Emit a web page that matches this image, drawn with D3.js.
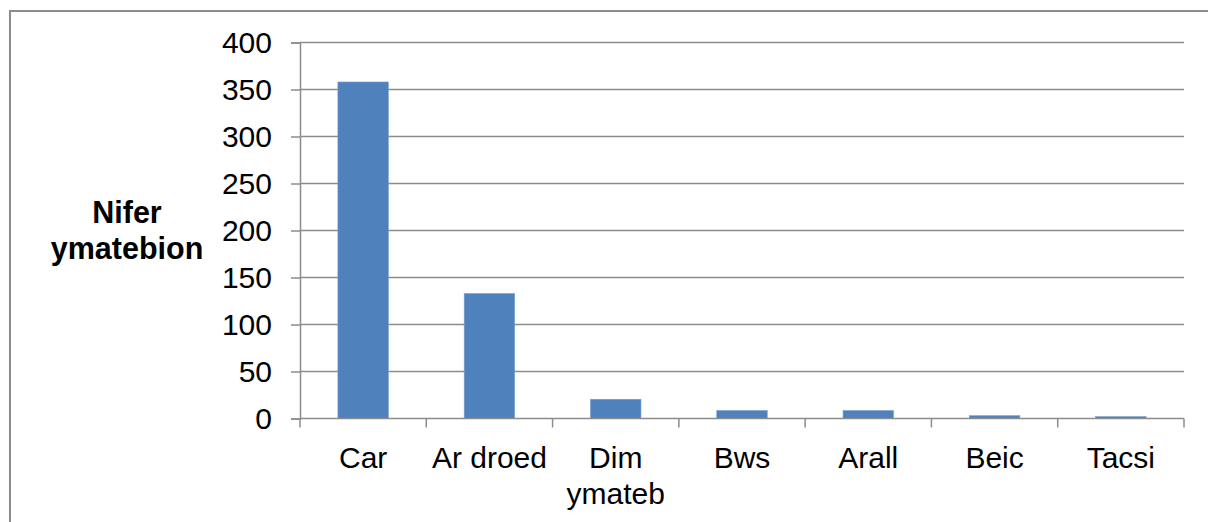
<!DOCTYPE html>
<html>
<head>
<meta charset="utf-8">
<script src="https://cdn.jsdelivr.net/npm/d3@7"></script>
<style>
  html, body { margin: 0; padding: 0; background: #fff; }
  svg { display: block; font-family: "Liberation Sans", Arial, sans-serif; }
</style>
</head>
<body>
<svg id="chart" width="1208" height="522"></svg>
<script>
const categories = ["Car", "Ar droed", "Dim ymateb", "Bws", "Arall", "Beic", "Tacsi"];
const values = [358, 133, 20.5, 8.5, 8.5, 3, 2];
const yTicks = [0, 50, 100, 150, 200, 250, 300, 350, 400];
const yTitle = ["Nifer", "ymatebion"];

const svg = d3.select("#chart");

const plot = { left: 300, right: 1184, top: 42.5, bottom: 418.5 };
const fontSize = 30;

// outer frame (right and bottom edges fall outside the picture)
svg.append("rect")
    .attr("x", 10)
    .attr("y", 11)
    .attr("width", 1210)
    .attr("height", 530)
    .attr("fill", "none")
    .attr("stroke", "#8c8c8c")
    .attr("stroke-width", 2);

const x = d3.scaleBand()
    .domain(categories)
    .range([plot.left, plot.right])
    .padding(0);

const y = d3.scaleLinear()
    .domain([0, 400])
    .range([plot.bottom, plot.top]);

// gridlines
svg.append("g")
    .selectAll("line")
    .data(yTicks.filter(d => d > 0))
    .join("line")
    .attr("x1", plot.left)
    .attr("x2", plot.right)
    .attr("y1", d => y(d))
    .attr("y2", d => y(d))
    .attr("stroke", "#8c8c8c")
    .attr("stroke-width", 1.5);

// y axis
const yAxis = svg.append("g")
    .attr("transform", `translate(${plot.left},0)`)
    .call(d3.axisLeft(y).tickValues(yTicks).tickSize(9).tickPadding(19));
yAxis.select(".domain").attr("stroke", "#8c8c8c").attr("stroke-width", 1.5);
yAxis.selectAll(".tick line").attr("stroke", "#8c8c8c").attr("stroke-width", 1.5);
yAxis.selectAll(".tick text")
    .attr("font-size", fontSize)
    .attr("fill", "#000")
    .attr("font-family", "Liberation Sans, Arial, sans-serif");

// bars
const barW = x.bandwidth() * 0.4;
svg.append("g")
    .selectAll("rect")
    .data(categories.map((c, i) => ({ c, v: values[i] })))
    .join("rect")
    .attr("x", d => x(d.c) + (x.bandwidth() - barW) / 2)
    .attr("y", d => y(d.v))
    .attr("width", barW)
    .attr("height", d => y(0) - y(d.v))
    .attr("fill", "#4f81bd")
    .attr("stroke", "#7aa0d0")
    .attr("stroke-width", 0.6);

// x axis line + ticks at band edges
const xg = svg.append("g");
xg.append("line")
    .attr("x1", plot.left)
    .attr("x2", plot.right)
    .attr("y1", y(0))
    .attr("y2", y(0))
    .attr("stroke", "#8c8c8c")
    .attr("stroke-width", 1.5);
const edges = categories.map(c => x(c)).concat([plot.right]);
xg.selectAll("line.tk")
    .data(edges)
    .join("line")
    .attr("class", "tk")
    .attr("x1", d => d)
    .attr("x2", d => d)
    .attr("y1", y(0))
    .attr("y2", y(0) + 9)
    .attr("stroke", "#8c8c8c")
    .attr("stroke-width", 1.5);

// category labels (wrap onto two lines if too wide)
categories.forEach(c => {
    const cx = x(c) + x.bandwidth() / 2;
    const t = svg.append("text")
        .attr("x", cx)
        .attr("y", 468)
        .attr("text-anchor", "middle")
        .attr("font-size", fontSize)
        .attr("fill", "#000");
    const words = c.split(" ");
    t.text(c);
    if (t.node().getComputedTextLength() > x.bandwidth() && words.length > 1) {
        t.text(null);
        words.forEach((w, i) => {
            t.append("tspan").attr("x", cx).attr("dy", i === 0 ? 0 : 36).text(w);
        });
    }
});

// y title
const yt = svg.append("text")
    .attr("x", 127)
    .attr("y", 223)
    .attr("text-anchor", "middle")
    .attr("font-size", 30.5)
    .attr("font-weight", "bold")
    .attr("fill", "#000");
yTitle.forEach((w, i) => {
    yt.append("tspan").attr("x", 127).attr("dy", i === 0 ? 0 : 36).text(w);
});
</script>
</body>
</html>
